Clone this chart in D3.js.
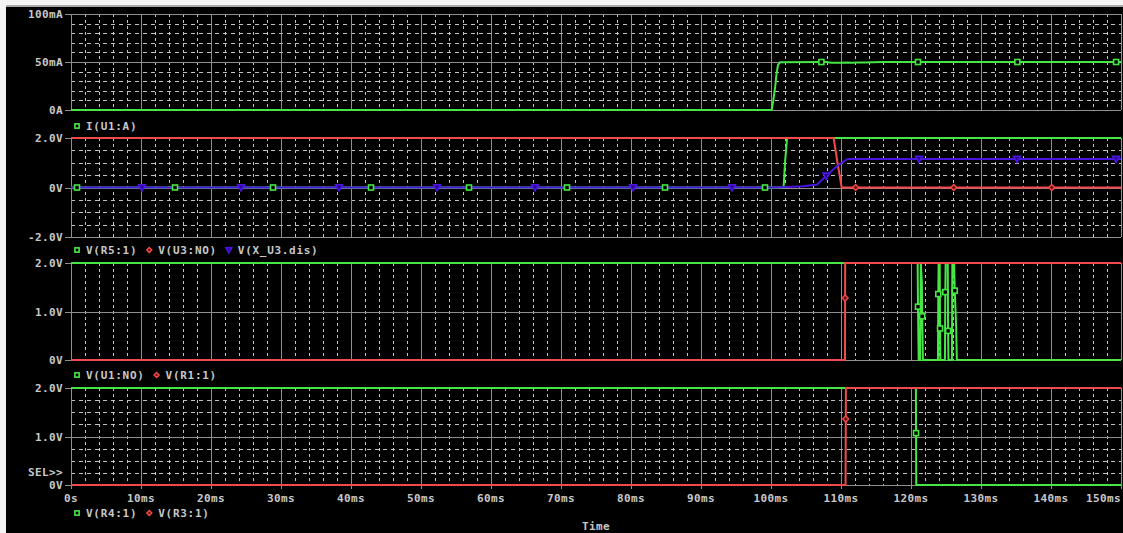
<!DOCTYPE html>
<html>
<head>
<meta charset="utf-8">
<script src="https://cdn.jsdelivr.net/npm/d3@7"></script>
<style>
  html, body { margin: 0; padding: 0; background: #f4f4f4; overflow: hidden; }
  svg { display: block; }
  text { font-family: "DejaVu Sans Mono", "Liberation Mono", monospace; fill: #c8c8c8; font-weight: bold; }
</style>
</head>
<body>
<svg id="chart" width="1123" height="533"></svg>
<script>
// ---- Time axis (ms) ----
const timeDomain = [0, 150];
const timeTicks = d3.range(0, 151, 10);
const timeTickLabels = ["0s", "10ms", "20ms", "30ms", "40ms", "50ms", "60ms", "70ms",
  "80ms", "90ms", "100ms", "110ms", "120ms", "130ms", "140ms", "150ms"];

// ---- Plot 1: I(U1:A) in mA ----
const p1Ticks = [0, 50, 100];
const p1TickLabels = ["0A", "50mA", "100mA"];
const iU1A = [[0, 0], [100.1, 0], [100.3, 8.6], [100.6, 24.3], [100.8, 38.2], [101.0, 46.9],
  [101.3, 49.7], [107.2, 50], [108.0, 50], [108.6, 49.3], [110.0, 49.3], [110.8, 49.6],
  [111.6, 49.2], [112.4, 49.4], [113.4, 49.6], [114.5, 49.7], [116.0, 50], [150, 50]];
const iU1AMarks = [[107.2, 50], [121.0, 50], [135.2, 50], [149.3, 50]];

// ---- Plot 2: V(R5:1), V(U3:NO), V(X_U3.dis) ----
const p2Ticks = [-2, 0, 2];
const p2TickLabels = ["-2.0V", "0V", "2.0V"];
const vR5 = [[0, 0], [101.8, 0], [102.0, 1.0], [102.3, 2], [150, 2]];
const vR5Marks = [[0.86, 0], [14.86, 0], [28.86, 0], [42.86, 0], [56.86, 0], [70.86, 0],
  [84.86, 0], [99.14, 0]];
const vU3NO = [[0, 2], [108.95, 2], [109.5, 1.0], [110.1, 0], [150, 0]];
const vU3NOMarks = [[112.1, 0], [126.1, 0], [140.1, 0]];
const vXU3dis = [[0, 0], [100.6, 0], [104.6, 0.05], [106.6, 0.12], [107.96, 0.49],
  [109.4, 0.86], [110.8, 1.13], [111.0, 1.155], [150, 1.155]];
const vXU3disMarks = [[10.14, 0], [24.29, 0], [38.29, 0], [52.29, 0], [66.29, 0], [80.29, 0],
  [94.43, 0], [107.9, 0.47], [121.14, 1.155], [135.14, 1.155], [149.29, 1.155]];

// ---- Plot 3: V(U1:NO), V(R1:1) ----
const p3Ticks = [0, 1, 2];
const p3TickLabels = ["0V", "1.0V", "2.0V"];
const vU1NO = [[0, 2], [120.95, 2], [121.0, 1.1], [121.1, 0], [121.3, 0], [121.4, 2],
  [121.55, 1.6], [121.6, 0.9], [121.7, 0], [123.85, 0], [123.9, 1.36], [123.95, 2],
  [124.1, 2], [124.15, 0.65], [124.2, 0], [124.85, 0], [124.9, 1.4], [124.95, 2],
  [125.25, 2], [125.3, 0.6], [125.35, 0], [125.85, 0], [125.9, 2], [126.15, 2],
  [126.25, 1.43], [126.45, 0.7], [126.55, 0], [150, 0]];
const vU1NOMarks = [[121.0, 1.1], [121.6, 0.9], [123.9, 1.36], [124.15, 0.65],
  [124.9, 1.4], [125.3, 0.6], [126.25, 1.43]];
const vR1 = [[0, 0], [110.57, 0], [110.6, 2], [150, 2]];
const vR1Marks = [[110.58, 1.28]];

// ---- Plot 4: V(R4:1), V(R3:1) ----
const p4Ticks = [0, 1, 2];
const p4TickLabels = ["0V", "1.0V", "2.0V"];
const vR4 = [[0, 2], [120.7, 2], [120.75, 0], [150, 0]];
const vR4Marks = [[120.72, 1.07]];
const vR3 = [[0, 0], [110.65, 0], [110.7, 2], [150, 2]];
const vR3Marks = [[110.68, 1.36]];

// ---- Trace colours ----
const GREEN = "#46e646", RED = "#f24a4a", BLUE = "#4a14e2";
const MAJOR = "#8e8e8e", MINOR = "#c4c4c4";

const W = 1123, H = 533;
const svg = d3.select("#chart");

// window background and plot canvas
svg.append("rect").attr("width", W).attr("height", H).attr("fill", "#f4f4f4");
svg.append("rect").attr("x", 6).attr("y", 5).attr("width", W - 6).attr("height", 2).attr("fill", "#a8a8a8");
svg.append("rect").attr("x", 6).attr("y", 7).attr("width", W - 6).attr("height", H - 7).attr("fill", "#000");

const x = d3.scaleLinear().domain(timeDomain).range([71, 1121]);
const crisp = v => Math.round(v) + 0.5;

const panels = [
  { top: 14, bottom: 110, domain: [0, 100], ticks: p1Ticks, labels: p1TickLabels, minor: 10,
    series: [{ data: iU1A, marks: iU1AMarks, color: GREEN, shape: "square" }],
    legendY: 126, legend: [{ shape: "square", color: GREEN, label: "I(U1:A)" }] },
  { top: 138, bottom: 237, domain: [-2, 2], ticks: p2Ticks, labels: p2TickLabels, minor: 0.5,
    series: [
      { data: vR5, marks: vR5Marks, color: GREEN, shape: "square" },
      { data: vU3NO, marks: vU3NOMarks, color: RED, shape: "diamond" },
      { data: vXU3dis, marks: vXU3disMarks, color: BLUE, shape: "triangle" }],
    legendY: 250, legend: [
      { shape: "square", color: GREEN, label: "V(R5:1)" },
      { shape: "diamond", color: RED, label: "V(U3:NO)" },
      { shape: "triangle", color: BLUE, label: "V(X_U3.dis)" }] },
  { top: 263, bottom: 360, domain: [0, 2], ticks: p3Ticks, labels: p3TickLabels, minor: null,
    series: [
      { data: vU1NO, marks: vU1NOMarks, color: GREEN, shape: "square" },
      { data: vR1, marks: vR1Marks, color: RED, shape: "diamond" }],
    legendY: 375, legend: [
      { shape: "square", color: GREEN, label: "V(U1:NO)" },
      { shape: "diamond", color: RED, label: "V(R1:1)" }] },
  { top: 388, bottom: 485, domain: [0, 2], ticks: p4Ticks, labels: p4TickLabels, minor: 0.25,
    series: [
      { data: vR4, marks: vR4Marks, color: GREEN, shape: "square" },
      { data: vR3, marks: vR3Marks, color: RED, shape: "diamond" }],
    legendY: 513, legend: [
      { shape: "square", color: GREEN, label: "V(R4:1)" },
      { shape: "diamond", color: RED, label: "V(R3:1)" }] }
];

function drawMarker(g, shape, color, cx, cy, small) {
  const k = small ? 0.85 : 1;
  if (shape === "square") {
    const s = 5 * k;
    g.append("rect").attr("x", cx - s / 2).attr("y", cy - s / 2).attr("width", s).attr("height", s)
      .attr("fill", "#000").attr("stroke", color).attr("stroke-width", 1.6);
  } else if (shape === "diamond") {
    const s = 3 * k;
    g.append("path").attr("d", `M${cx},${cy - s}L${cx + s},${cy}L${cx},${cy + s}L${cx - s},${cy}Z`)
      .attr("fill", "#6a1010").attr("stroke", color).attr("stroke-width", 1.4);
  } else {
    const s = 3.4 * k;
    g.append("path").attr("d", `M${cx - s},${cy - s * 0.8}L${cx + s},${cy - s * 0.8}L${cx},${cy + s}Z`)
      .attr("fill", "#2a0a80").attr("stroke", color).attr("stroke-width", 1.6);
  }
}

const minorT = d3.range(2, 150, 2).filter(t => t % 10 !== 0);
const majorT = timeTicks.filter(t => t > 0 && t < 150);

panels.forEach((p, i) => {
  const y = d3.scaleLinear().domain(p.domain).range([p.bottom, p.top]);
  const g = svg.append("g");

  // dashed minor grid
  g.selectAll(null).data(minorT).join("line")
    .attr("x1", t => crisp(x(t))).attr("x2", t => crisp(x(t)))
    .attr("y1", p.top).attr("y2", p.bottom)
    .attr("stroke", MINOR).attr("stroke-width", 1).attr("stroke-dasharray", "3,3");
  if (p.minor) {
    const minorV = d3.range(p.domain[0] + p.minor, p.domain[1] - 1e-9, p.minor)
      .filter(v => !p.ticks.some(t => Math.abs(t - v) < 1e-9));
    g.selectAll(null).data(minorV).join("line")
      .attr("x1", x(0)).attr("x2", x(150))
      .attr("y1", v => crisp(y(v))).attr("y2", v => crisp(y(v)))
      .attr("stroke", MINOR).attr("stroke-width", 1).attr("stroke-dasharray", "4,4");
  }
  // solid major grid
  g.selectAll(null).data(majorT).join("line")
    .attr("x1", t => crisp(x(t))).attr("x2", t => crisp(x(t)))
    .attr("y1", p.top).attr("y2", p.bottom + (i === 3 ? 4 : 0))
    .attr("stroke", MAJOR).attr("stroke-width", 1);
  g.selectAll(null).data(p.ticks).join("line")
    .attr("x1", 65).attr("x2", x(150))
    .attr("y1", v => crisp(y(v))).attr("y2", v => crisp(y(v)))
    .attr("stroke", MAJOR).attr("stroke-width", 1);
  // frame
  g.append("line").attr("x1", crisp(x(0))).attr("x2", crisp(x(0)))
    .attr("y1", p.top).attr("y2", p.bottom + (i === 3 ? 4 : 0)).attr("stroke", MAJOR);
  g.append("line").attr("x1", crisp(x(150))).attr("x2", crisp(x(150)))
    .attr("y1", p.top).attr("y2", p.bottom + (i === 3 ? 4 : 0)).attr("stroke", MAJOR);

  // y tick labels
  g.selectAll(null).data(p.ticks).join("text")
    .attr("x", 63).attr("y", v => y(v) + 4)
    .attr("text-anchor", "end").attr("font-size", 11).attr("letter-spacing", 0.4)
    .text((v, j) => p.labels[j]);

  // traces
  const clipId = "clip" + i;
  svg.append("clipPath").attr("id", clipId).append("rect")
    .attr("x", x(0)).attr("y", p.top - 2).attr("width", x(150) - x(0) + 1).attr("height", p.bottom - p.top + 4);
  const tg = svg.append("g").attr("clip-path", `url(#${clipId})`);
  const line = d3.line().x(d => x(d[0])).y(d => y(d[1]));
  p.series.forEach(s => {
    tg.append("path").attr("d", line(s.data)).attr("fill", "none")
      .attr("stroke", s.color).attr("stroke-width", 2).attr("stroke-linejoin", "miter");
  });
  p.series.forEach(s => {
    s.marks.forEach(m => drawMarker(svg, s.shape, s.color, x(m[0]), y(m[1]), false));
  });

  // legend
  let lx = 77;
  p.legend.forEach(item => {
    drawMarker(svg, item.shape, item.color, lx, p.legendY, true);
    const t = svg.append("text").attr("x", lx + 9).attr("y", p.legendY + 4)
      .attr("font-size", 11).attr("letter-spacing", 0.7).text(item.label);
    lx = lx + 9 + t.node().getComputedTextLength() + 12;
  });
});

// SEL>> marker on the last plot
svg.append("text").attr("x", 63).attr("y", 476).attr("text-anchor", "end")
  .attr("font-size", 11).attr("letter-spacing", 0.4).text("SEL>>");

// time axis labels
svg.selectAll(null).data(timeTicks).join("text")
  .attr("x", t => x(t))
  .attr("y", 502)
  .attr("text-anchor", (t, j) => j === timeTicks.length - 1 ? "end" : "middle")
  .attr("font-size", 11).attr("letter-spacing", 0.4)
  .text((t, j) => timeTickLabels[j]);

svg.append("text").attr("x", (x(0) + x(150)) / 2).attr("y", 530).attr("text-anchor", "middle")
  .attr("font-size", 11).attr("letter-spacing", 0.4).text("Time");
</script>
</body>
</html>
